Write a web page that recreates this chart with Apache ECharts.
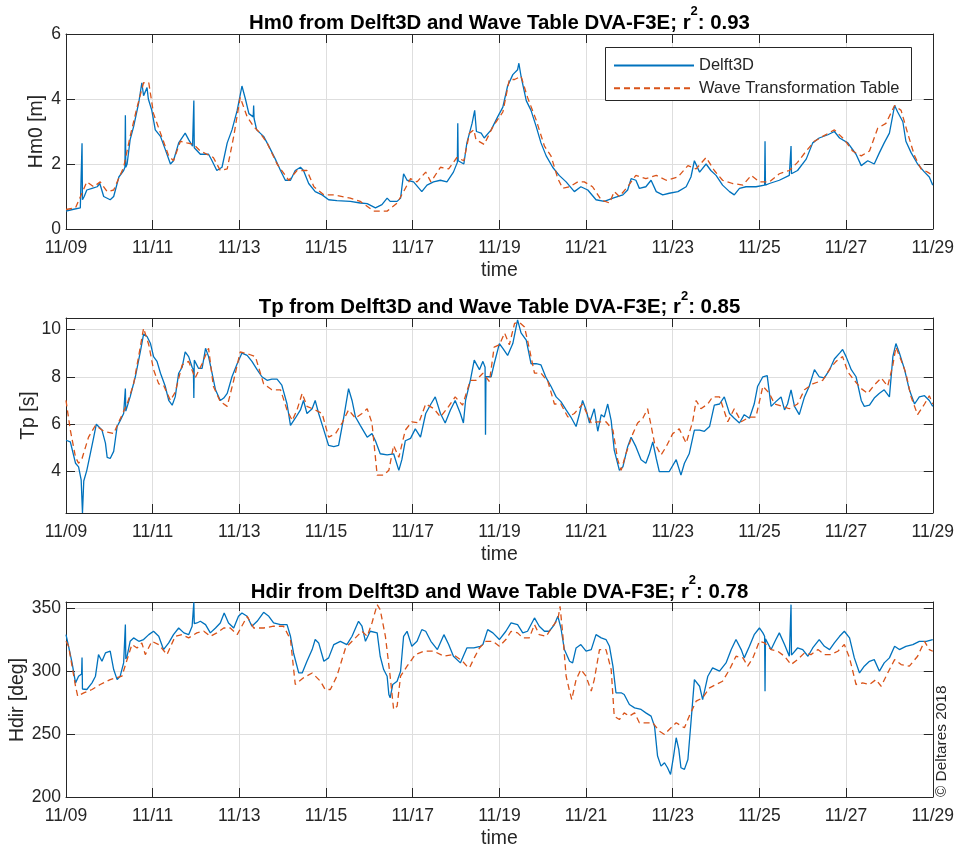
<!DOCTYPE html>
<html><head><meta charset="utf-8">
<script src="https://cdn.jsdelivr.net/npm/echarts@6/dist/echarts.min.js"></script>
<style>html,body{margin:0;padding:0;background:#fff}#c{width:957px;height:849px}</style>
</head><body><div id="c"></div>
<script>
// x tick labels (every 2 days from 11/09)
const xTickLabels = ['11/09','11/11','11/13','11/15','11/17','11/19','11/21','11/23','11/25','11/27','11/29'];
const seriesNames = ['Delft3D', 'Wave Transformation Table'];
const titles = ['Hm0 from Delft3D and Wave Table DVA-F3E; r', 'Tp from Delft3D and Wave Table DVA-F3E; r', 'Hdir from Delft3D and Wave Table DVA-F3E; r'];
const r2Values = ['0.93', '0.85', '0.78'];
const yNames = ['Hm0 [m]', 'Tp [s]', 'Hdir [deg]'];
const hm0Ticks = [0, 2, 4, 6];
const tpTicks = [4, 6, 8, 10];
const hdirTicks = [200, 250, 300, 350];

// [day since 11/09 00:00, value]
const hm0Delft = [[0,0.55],[0.15,0.6],[0.33,0.65],[0.36,0.7],[0.37,2.64],[0.38,0.9],[0.42,1.0],[0.48,1.2],[0.6,1.25],[0.72,1.3],[0.78,1.4],[0.87,1.0],[1.02,0.9],[1.1,1.0],[1.22,1.6],[1.33,1.8],[1.36,1.9],[1.37,3.5],[1.38,1.9],[1.41,2.0],[1.48,2.75],[1.56,3.15],[1.68,3.9],[1.75,4.5],[1.79,4.1],[1.87,4.35],[1.9,4.0],[1.98,3.65],[2.06,3.05],[2.18,2.85],[2.29,2.45],[2.41,2.0],[2.48,2.1],[2.6,2.65],[2.75,2.95],[2.83,2.75],[2.92,2.55],[2.94,2.6],[2.95,3.95],[2.96,2.5],[3.1,2.3],[3.29,2.3],[3.37,2.1],[3.48,1.8],[3.6,1.9],[3.72,2.65],[3.83,3.05],[3.95,3.65],[4.06,4.4],[4.14,4.0],[4.22,3.55],[4.32,3.45],[4.33,3.8],[4.34,3.4],[4.4,3.05],[4.56,2.85],[4.68,2.55],[4.83,2.15],[4.95,1.8],[5.06,1.5],[5.18,1.5],[5.29,1.8],[5.41,1.9],[5.48,1.8],[5.6,1.4],[5.75,1.15],[5.91,1.05],[6.06,0.9],[6.25,0.87],[6.56,0.85],[6.79,0.8],[6.95,0.78],[7.14,0.65],[7.29,0.75],[7.41,0.95],[7.48,0.85],[7.64,0.85],[7.72,0.95],[7.79,1.7],[7.87,1.5],[8.02,1.45],[8.21,1.15],[8.33,1.35],[8.48,1.45],[8.64,1.5],[8.79,1.45],[8.94,1.75],[9.03,2.05],[9.04,3.25],[9.05,2.1],[9.18,2.0],[9.25,2.65],[9.37,3.25],[9.43,3.65],[9.47,3.0],[9.58,2.95],[9.65,2.8],[9.81,3.05],[9.96,3.45],[10.08,3.75],[10.19,4.4],[10.31,4.75],[10.42,4.9],[10.45,5.1],[10.5,4.7],[10.62,3.95],[10.73,3.65],[10.85,3.15],[10.96,2.65],[11.08,2.25],[11.23,1.9],[11.38,1.65],[11.54,1.45],[11.73,1.15],[11.88,1.3],[12.04,1.2],[12.23,0.9],[12.42,0.85],[12.62,0.95],[12.85,1.05],[12.96,1.2],[13.04,1.55],[13.15,1.5],[13.23,1.25],[13.38,1.3],[13.5,1.5],[13.62,1.15],[13.77,1.05],[13.92,1.1],[14.12,1.15],[14.31,1.3],[14.42,1.6],[14.5,2.1],[14.62,1.75],[14.77,2.0],[14.88,1.8],[15.0,1.65],[15.15,1.35],[15.31,1.15],[15.42,1.05],[15.54,1.25],[15.69,1.3],[15.92,1.3],[16.12,1.35],[16.13,2.7],[16.14,1.35],[16.23,1.4],[16.46,1.5],[16.69,1.65],[16.72,1.7],[16.73,2.55],[16.74,1.7],[16.88,1.8],[17.08,2.15],[17.23,2.65],[17.38,2.8],[17.58,2.9],[17.73,3.0],[17.85,2.8],[18.04,2.65],[18.23,2.3],[18.35,1.95],[18.5,2.1],[18.65,2.0],[18.77,2.35],[18.88,2.65],[19.0,2.95],[19.12,3.8],[19.19,3.6],[19.31,3.3],[19.38,2.7],[19.5,2.35],[19.65,2.0],[19.81,1.75],[19.92,1.6],[20.0,1.35]];
const hm0Table = [[0,0.6],[0.22,0.65],[0.48,1.45],[0.64,1.3],[0.79,1.45],[0.95,1.15],[1.1,1.2],[1.33,1.9],[1.48,2.85],[1.64,3.75],[1.79,4.5],[1.91,4.5],[2.02,3.55],[2.18,2.95],[2.37,2.25],[2.48,2.1],[2.64,2.7],[2.79,2.65],[2.95,2.6],[3.1,2.4],[3.25,2.3],[3.4,2.2],[3.56,1.8],[3.72,1.85],[3.87,2.85],[4.02,4.05],[4.18,3.45],[4.33,3.15],[4.48,2.95],[4.64,2.65],[4.87,2.0],[5.14,1.5],[5.33,1.8],[5.56,1.8],[5.72,1.3],[5.95,1.05],[6.18,1.05],[6.56,0.95],[6.79,0.85],[7.1,0.55],[7.41,0.55],[7.64,0.8],[7.79,1.15],[7.95,1.55],[8.1,1.45],[8.3,1.75],[8.42,1.45],[8.64,1.9],[8.83,1.85],[9.02,2.2],[9.18,2.1],[9.31,2.95],[9.41,3.05],[9.46,2.75],[9.65,2.6],[9.85,3.15],[10.08,3.6],[10.23,4.6],[10.35,4.6],[10.5,4.7],[10.65,4.05],[10.85,3.35],[11.04,2.55],[11.19,2.25],[11.35,1.55],[11.46,1.25],[11.62,1.3],[11.81,1.45],[11.96,1.45],[12.15,1.3],[12.35,0.9],[12.54,0.8],[12.65,1.15],[12.77,1.0],[12.96,1.3],[13.15,1.65],[13.38,1.55],[13.62,1.65],[13.85,1.5],[14.12,1.6],[14.35,1.95],[14.54,1.85],[14.77,2.2],[14.96,1.8],[15.15,1.5],[15.38,1.4],[15.62,1.35],[15.81,1.65],[16.0,1.45],[16.23,1.45],[16.46,1.7],[16.69,1.8],[16.88,2.05],[17.08,2.4],[17.27,2.7],[17.46,2.85],[17.73,3.05],[17.96,2.75],[18.15,2.4],[18.35,2.25],[18.54,2.4],[18.73,3.1],[18.92,3.25],[19.12,3.8],[19.27,3.65],[19.42,2.95],[19.58,2.25],[19.73,1.85],[19.88,1.75],[20.0,1.65]];

const tpDelft = [[0,5.32],[0.1,5.25],[0.22,4.35],[0.29,4.2],[0.35,3.65],[0.38,2.25],[0.41,3.6],[0.48,4.05],[0.56,4.75],[0.64,5.45],[0.7,6.0],[0.75,5.9],[0.83,5.75],[0.91,5.2],[0.95,4.6],[1.02,4.55],[1.1,4.85],[1.18,5.9],[1.25,6.15],[1.33,6.45],[1.36,6.5],[1.37,7.5],[1.38,6.55],[1.41,6.6],[1.48,7.15],[1.6,8.0],[1.72,9.1],[1.79,9.8],[1.87,9.7],[1.95,9.4],[2.02,8.85],[2.1,8.65],[2.18,8.15],[2.29,7.6],[2.37,7.0],[2.45,6.8],[2.52,7.15],[2.6,8.15],[2.68,8.4],[2.75,9.05],[2.83,8.85],[2.91,8.4],[2.94,8.3],[2.95,7.1],[2.96,8.7],[3.06,8.35],[3.14,8.35],[3.22,9.2],[3.29,8.85],[3.37,8.15],[3.45,7.45],[3.56,7.0],[3.64,7.1],[3.72,7.3],[3.83,8.0],[3.95,8.55],[4.06,9.0],[4.18,8.9],[4.29,8.65],[4.41,8.3],[4.52,8.0],[4.64,7.85],[4.75,7.9],[4.87,7.9],[4.98,7.65],[5.1,6.85],[5.18,5.95],[5.29,6.25],[5.41,6.6],[5.48,7.0],[5.56,6.45],[5.68,6.65],[5.75,7.0],[5.83,6.45],[5.95,5.75],[6.06,5.1],[6.18,5.05],[6.29,5.1],[6.41,6.3],[6.52,7.5],[6.6,7.0],[6.68,6.3],[6.79,5.95],[6.95,5.45],[7.06,5.6],[7.14,5.3],[7.25,4.75],[7.41,4.7],[7.56,4.75],[7.68,4.05],[7.75,4.5],[7.83,5.3],[7.95,5.4],[8.06,5.8],[8.18,5.45],[8.3,6.45],[8.42,6.85],[8.52,7.15],[8.64,6.45],[8.75,6.05],[8.87,6.6],[8.98,7.0],[9.1,6.45],[9.17,6.05],[9.22,7.0],[9.33,7.85],[9.42,8.7],[9.54,8.3],[9.62,8.65],[9.67,8.4],[9.68,5.55],[9.69,8.0],[9.73,7.95],[9.81,8.0],[9.88,8.55],[10.0,9.4],[10.08,9.2],[10.19,8.9],[10.31,9.4],[10.42,10.4],[10.5,9.85],[10.62,9.55],[10.73,8.55],[10.85,8.55],[10.96,8.5],[11.08,7.95],[11.19,7.6],[11.31,7.15],[11.42,6.95],[11.54,6.6],[11.65,6.3],[11.77,5.9],[11.85,6.45],[11.92,7.0],[12.0,6.6],[12.08,6.05],[12.19,6.65],[12.27,5.7],[12.35,6.4],[12.42,6.3],[12.5,6.85],[12.58,6.15],[12.65,4.9],[12.77,4.05],[12.85,4.2],[12.96,5.05],[13.04,5.45],[13.15,5.05],[13.27,4.5],[13.38,4.35],[13.46,4.75],[13.54,5.25],[13.62,4.55],[13.69,4.0],[13.81,4.0],[13.92,4.0],[14.08,4.5],[14.19,3.85],[14.27,4.35],[14.38,4.75],[14.5,5.75],[14.62,5.75],[14.73,5.7],[14.85,5.9],[14.96,6.8],[15.08,6.85],[15.19,7.15],[15.31,6.45],[15.42,6.25],[15.54,6.05],[15.65,6.4],[15.77,6.25],[15.88,6.85],[15.96,7.6],[16.08,8.0],[16.18,8.05],[16.27,6.75],[16.38,6.95],[16.5,7.15],[16.58,6.6],[16.65,6.85],[16.73,7.45],[16.81,6.75],[16.92,6.4],[17.04,7.15],[17.15,7.6],[17.27,8.3],[17.38,8.0],[17.5,7.95],[17.62,8.3],[17.73,8.75],[17.85,9.0],[17.92,9.15],[18.0,8.85],[18.12,8.3],[18.23,8.0],[18.35,7.0],[18.42,6.75],[18.54,6.8],[18.65,7.1],[18.77,7.3],[18.88,7.45],[19.0,7.15],[19.08,8.85],[19.15,9.4],[19.23,9.0],[19.35,8.3],[19.46,7.45],[19.58,6.85],[19.69,7.15],[19.81,7.2],[19.92,7.0],[20.0,6.75]];
const tpTable = [[0,7.0],[0.1,5.75],[0.22,4.6],[0.29,4.35],[0.37,4.55],[0.52,5.45],[0.68,5.95],[0.87,5.7],[1.1,5.6],[1.22,6.1],[1.41,6.85],[1.56,7.7],[1.68,8.9],[1.79,10.05],[1.91,9.35],[2.02,8.3],[2.14,7.7],[2.25,7.65],[2.41,7.0],[2.52,7.35],[2.68,8.5],[2.83,8.65],[2.98,7.95],[3.14,8.55],[3.29,9.2],[3.4,7.6],[3.56,6.95],[3.72,6.75],[3.87,7.85],[4.02,9.05],[4.22,8.95],[4.37,8.85],[4.56,7.7],[4.75,7.45],[4.95,7.45],[5.1,6.6],[5.22,6.15],[5.33,6.6],[5.45,7.3],[5.56,6.75],[5.75,6.6],[5.91,6.45],[6.06,5.45],[6.22,5.6],[6.37,6.05],[6.52,6.6],[6.68,6.25],[6.83,6.45],[6.95,6.65],[7.06,6.05],[7.18,3.85],[7.33,3.85],[7.45,4.05],[7.56,5.1],[7.68,4.6],[7.83,5.75],[7.98,6.1],[8.14,6.05],[8.3,6.85],[8.49,6.65],[8.64,6.3],[8.83,6.75],[8.98,7.15],[9.15,6.8],[9.33,7.85],[9.46,7.85],[9.62,8.15],[9.77,7.8],[9.88,9.25],[10.0,9.35],[10.12,9.85],[10.23,9.35],[10.35,10.25],[10.46,10.3],[10.58,10.1],[10.69,9.2],[10.81,8.15],[10.96,8.15],[11.12,7.8],[11.27,6.85],[11.42,6.85],[11.58,6.3],[11.73,6.45],[11.92,6.85],[12.12,6.05],[12.27,6.1],[12.46,6.1],[12.62,5.75],[12.73,4.5],[12.81,4.05],[12.92,4.75],[13.08,5.6],[13.19,6.05],[13.31,6.25],[13.42,6.65],[13.5,5.95],[13.58,5.2],[13.73,4.7],[13.85,5.05],[14.0,5.6],[14.15,5.8],[14.31,5.2],[14.46,6.1],[14.54,7.0],[14.65,6.65],[14.81,6.85],[14.92,7.15],[15.08,7.15],[15.27,6.1],[15.42,6.65],[15.58,6.1],[15.77,6.3],[15.92,6.3],[16.08,7.6],[16.23,7.3],[16.35,6.85],[16.54,6.75],[16.69,6.65],[16.88,6.85],[17.04,7.45],[17.23,7.7],[17.46,7.85],[17.65,8.4],[17.77,8.65],[17.92,8.85],[18.04,8.2],[18.19,7.85],[18.35,7.5],[18.5,7.3],[18.65,7.65],[18.81,7.95],[18.96,7.6],[19.08,8.5],[19.15,9.25],[19.27,8.7],[19.38,8.15],[19.5,7.15],[19.65,6.4],[19.81,6.85],[19.92,7.2],[20.0,6.85]];

const hdirDelft = [[0,329.3],[0.02,330.7],[0.06,320],[0.14,306.8],[0.22,290.9],[0.29,296.2],[0.33,297.5],[0.36,298],[0.37,311],[0.38,286],[0.41,285.6],[0.48,285.6],[0.6,290.9],[0.68,296.2],[0.75,313.4],[0.83,308.1],[0.91,314.7],[1.02,316.1],[1.1,301.5],[1.18,293.5],[1.25,296.2],[1.33,306.8],[1.36,308],[1.37,337.3],[1.38,310],[1.41,312.1],[1.48,324.0],[1.56,326.7],[1.68,324.0],[1.79,325.4],[1.91,329.3],[2.02,332.0],[2.14,328.0],[2.25,317.4],[2.37,322.7],[2.48,329.3],[2.6,334.6],[2.72,330.7],[2.83,329.3],[2.91,336],[2.94,336],[2.95,355],[2.96,338],[3.02,338.6],[3.1,340],[3.22,337.3],[3.33,330.7],[3.45,334.6],[3.56,338.6],[3.65,346.6],[3.75,338.6],[3.87,334.6],[3.98,343.9],[4.06,346.6],[4.18,343.9],[4.29,336.0],[4.41,339.9],[4.56,347.1],[4.68,343.9],[4.79,338.6],[4.95,337.3],[5.1,337.3],[5.18,328.0],[5.25,314.7],[5.37,298.8],[5.45,298.8],[5.56,308.1],[5.68,317.4],[5.75,325.4],[5.83,322.7],[5.95,308.1],[6.06,310.8],[6.18,321.4],[6.33,324.0],[6.48,321.4],[6.6,328],[6.75,339.9],[6.83,336],[6.91,324],[7.02,332],[7.18,330.7],[7.25,312.1],[7.33,301.5],[7.41,296.2],[7.45,281.6],[7.48,279.0],[7.54,289.6],[7.64,292.2],[7.72,300.2],[7.79,328],[7.87,332],[7.98,320],[8.1,324],[8.21,333.3],[8.3,332],[8.42,324],[8.57,317.4],[8.72,329.3],[8.83,321.4],[8.94,312.1],[9.1,306.8],[9.25,318.7],[9.41,318.7],[9.56,320],[9.62,321.4],[9.73,333.3],[9.85,330.7],[10.0,325.4],[10.15,332],[10.27,338.6],[10.42,337.3],[10.54,330.7],[10.65,332],[10.81,342.6],[10.92,336],[11.04,332],[11.15,332],[11.27,337.3],[11.35,343.9],[11.42,334.6],[11.5,317.4],[11.62,308.1],[11.69,306.8],[11.77,318.7],[11.88,321.4],[12.0,316.1],[12.12,317.4],[12.23,329.3],[12.35,326.7],[12.46,325.4],[12.54,320],[12.62,304.2],[12.69,283],[12.81,283],[12.88,281.6],[13.0,273.7],[13.12,271],[13.27,269.7],[13.38,267.0],[13.5,264.4],[13.58,256.4],[13.65,232.6],[13.73,224.6],[13.81,227.3],[13.88,223.3],[13.95,218],[14.02,232.6],[14.08,247.2],[14.14,237.9],[14.19,223.3],[14.27,222],[14.35,229.9],[14.42,259.1],[14.5,293.5],[14.62,288.2],[14.69,277.6],[14.81,296.2],[14.92,302.8],[15.08,300.2],[15.23,306.8],[15.35,317.4],[15.46,325.4],[15.58,317.4],[15.65,310.8],[15.77,320],[15.88,329.3],[16.0,334.6],[16.08,330.7],[16.12,328],[16.13,284.3],[16.14,326],[16.18,325.4],[16.27,317.4],[16.38,325.4],[16.46,330.7],[16.58,321.4],[16.69,312.1],[16.72,313],[16.73,353.2],[16.74,313],[16.77,313.4],[16.88,318.7],[17.0,317.4],[17.12,312.1],[17.23,318.7],[17.38,325.4],[17.5,320],[17.62,317.4],[17.73,322.7],[17.85,328],[17.96,332],[18.08,326.7],[18.19,310.8],[18.31,298.8],[18.42,304.2],[18.54,308.1],[18.65,309.4],[18.77,300.2],[18.88,306.8],[19.0,310.8],[19.12,320],[19.23,317.4],[19.38,320],[19.54,321.4],[19.69,324],[19.85,324],[20.0,325.4]];
const hdirTable = [[0,324],[0.06,320],[0.22,288.2],[0.27,280.3],[0.41,282.9],[0.6,285.6],[0.79,289.6],[1.02,293.5],[1.29,296.2],[1.41,309.4],[1.52,321.4],[1.64,318.7],[1.75,322.7],[1.83,313.4],[1.98,324],[2.14,321.4],[2.33,313.4],[2.52,328],[2.68,329.3],[2.83,326.7],[3.02,330.7],[3.18,332],[3.33,328],[3.48,330.7],[3.64,334.6],[3.79,334.6],[3.95,329.3],[4.18,343.9],[4.33,334.6],[4.56,334.6],[4.79,336],[5.02,336],[5.18,325.4],[5.29,289.6],[5.48,294.9],[5.68,298.8],[5.87,292.2],[5.98,285.6],[6.1,285.6],[6.25,296.2],[6.45,318.7],[6.64,325.4],[6.83,332],[6.95,328],[7.06,338.6],[7.18,353.2],[7.25,349.2],[7.37,328],[7.48,296.2],[7.56,269.7],[7.64,272.3],[7.72,296.2],[7.87,304.2],[8.06,313.4],[8.25,316.1],[8.49,316.1],[8.72,312.1],[8.94,313.4],[9.15,308.1],[9.25,304.2],[9.31,302.8],[9.42,310.8],[9.54,318.7],[9.69,324],[9.85,324],[10.0,320],[10.15,325.4],[10.27,332],[10.42,330.7],[10.54,326.7],[10.69,326.7],[10.81,337.3],[10.92,329.3],[11.08,328],[11.23,336],[11.35,341.3],[11.4,351.9],[11.46,330.7],[11.54,296.2],[11.62,284.3],[11.67,277.6],[11.77,293.5],[11.88,301.5],[12.0,296.2],[12.12,284.3],[12.19,293.5],[12.31,317.4],[12.46,317.4],[12.58,301.5],[12.65,264.4],[12.77,261.7],[12.88,267],[13.0,264.4],[13.12,267],[13.23,259.1],[13.38,259.1],[13.54,259.1],[13.69,252.5],[13.81,249.8],[13.92,253.8],[14.08,259.1],[14.27,255.1],[14.38,264.4],[14.54,276.3],[14.69,279],[14.85,286.9],[15.0,289.6],[15.15,292.2],[15.31,301.5],[15.46,312.1],[15.62,310.8],[15.73,304.2],[15.85,310.8],[16.0,324],[16.12,322.7],[16.27,317.4],[16.42,316.1],[16.58,312.1],[16.73,305.5],[16.88,309.4],[17.04,314.7],[17.19,313.4],[17.35,317.4],[17.5,313.4],[17.65,313.4],[17.81,316.1],[17.96,321.4],[18.08,310.8],[18.23,289.6],[18.38,290.9],[18.54,289.6],[18.69,293.5],[18.81,288.2],[18.96,298.8],[19.12,309.4],[19.27,305.5],[19.46,304.2],[19.65,312.1],[19.81,324],[19.92,317.4],[20.0,316.1]];

const FONT = '"Liberation Sans", Arial, Helvetica, sans-serif';
const AX = '#262626', GRIDC = '#dedede', BLUE = '#0072BD', ORANGE = '#D95319';
const TICK_FS = 17.5, LABEL_FS = 19.4;

const layout = [
  {top: 34, height: 195, min: 0, max: 6, ticks: hm0Ticks, nameX: 37, titleY: 23},
  {top: 318, height: 195, min: 2.25, max: 10.48, ticks: tpTicks, nameX: 29, titleY: 307.5},
  {top: 602, height: 196, min: 200, max: 355.3, ticks: hdirTicks, nameX: 17.5, titleY: 592}
];
const data = [[hm0Delft, hm0Table], [tpDelft, tpTable], [hdirDelft, hdirTable]];

const grid = [], xAxis = [], yAxis = [], series = [], graphic = [];
layout.forEach((L, i) => {
  grid.push({left: 66, right: 24, top: L.top, height: L.height, containLabel: false});
  const baseX = {type: 'value', gridIndex: i, min: 0, max: 20, interval: 2,
    axisLine: {show: true, onZero: false, lineStyle: {color: AX, width: 1}},
    axisTick: {show: true, inside: true, length: 9, lineStyle: {color: AX}}};
  xAxis.push(Object.assign({}, baseX, {position: 'bottom',
    axisLabel: {show: true, margin: 10, color: AX, fontSize: TICK_FS, fontFamily: FONT,
      formatter: v => xTickLabels[Math.round(v / 2)]},
    splitLine: {show: true, lineStyle: {color: GRIDC, width: 1}},
    name: 'time', nameLocation: 'middle', nameGap: 32,
    nameTextStyle: {color: AX, fontSize: LABEL_FS, fontFamily: FONT}}));
  xAxis.push(Object.assign({}, baseX, {position: 'top', axisLabel: {show: false}, splitLine: {show: false}}));
  const baseY = {type: 'value', gridIndex: i, min: L.min, max: L.max,
    axisLine: {show: true, onZero: false, lineStyle: {color: AX, width: 1}},
    axisTick: {show: true, inside: true, length: 9, lineStyle: {color: AX}, customValues: L.ticks}};
  yAxis.push(Object.assign({}, baseY, {position: 'left',
    axisLabel: {show: true, margin: 5, color: AX, fontSize: TICK_FS, fontFamily: FONT, customValues: L.ticks},
    splitLine: {show: true, lineStyle: {color: GRIDC, width: 1}}}));
  yAxis.push(Object.assign({}, baseY, {position: 'right', axisLabel: {show: false}, splitLine: {show: false}}));
  series.push({type: 'line', name: seriesNames[0], xAxisIndex: 2 * i, yAxisIndex: 2 * i,
    data: data[i][0], symbol: 'none', showSymbol: false, clip: true,
    lineStyle: {color: BLUE, width: 1.3}, itemStyle: {color: BLUE}, z: 2});
  series.push({type: 'line', name: seriesNames[1], xAxisIndex: 2 * i, yAxisIndex: 2 * i,
    data: data[i][1], symbol: 'none', showSymbol: false, clip: true,
    lineStyle: {color: ORANGE, width: 1.3, type: [6, 4]}, itemStyle: {color: ORANGE}, z: 3});
  graphic.push({type: 'text', x: 499.5, y: L.titleY, z: 10,
    style: {text: '{b|' + titles[i] + '}{s|2}{b|: ' + r2Values[i] + '}',
      textAlign: 'center', textVerticalAlign: 'middle',
      rich: {
        b: {fontFamily: FONT, fontWeight: 'bold', fontSize: 20.4, fill: '#000', lineHeight: 36},
        s: {fontFamily: FONT, fontWeight: 'bold', fontSize: 13, fill: '#000', verticalAlign: 'top', lineHeight: 14}
      }}});
  // y-axis title
  graphic.push({type: 'text', x: L.nameX, y: L.top + L.height / 2, rotation: Math.PI / 2, z: 10,
    style: {text: yNames[i], fontFamily: FONT, fontSize: LABEL_FS, fill: AX,
      textAlign: 'center', textVerticalAlign: 'middle'}});
});
// legend box
graphic.push({type: 'rect', z: 15, shape: {x: 605.5, y: 47.5, width: 306, height: 53},
  style: {fill: '#fff', stroke: AX, lineWidth: 1}});
graphic.push({type: 'text', x: 942, y: 797, rotation: Math.PI / 2, z: 10,
  style: {text: '\u00A9 Deltares 2018', fontFamily: FONT, fontSize: 15.4, fill: AX,
    textAlign: 'left', textVerticalAlign: 'middle'}});

const legendBase = {show: true, orient: 'vertical', left: 613, padding: 0, itemWidth: 80, itemHeight: 14,
  z: 30, selectedMode: false, itemStyle: {opacity: 0},
  textStyle: {color: AX, fontSize: 16.5, fontFamily: FONT}};

const chart = echarts.init(document.getElementById('c'), null, {renderer: 'canvas'});
chart.setOption({
  animation: false,
  backgroundColor: '#fff',
  grid, xAxis, yAxis, series, graphic,
  legend: [
    Object.assign({}, legendBase, {data: [seriesNames[0]], top: 57}),
    Object.assign({}, legendBase, {data: [seriesNames[1]], top: 79.7})
  ]
});
</script>
</body></html>
